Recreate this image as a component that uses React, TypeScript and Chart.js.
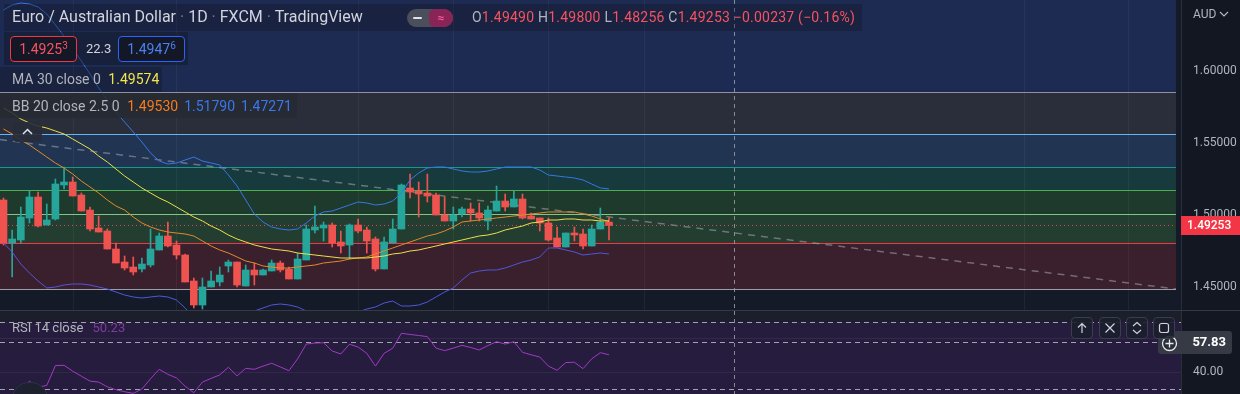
import React, { useEffect, useRef } from "react";
import { Chart, registerables } from "chart.js";

Chart.register(...registerables);

// ---------------- data ----------------
const candleOpen = [1.51021,1.48035,1.48243,1.49771,1.51229,1.49285,1.49701,1.52063,1.52271,1.51368,1.50326,1.49076,1.48868,1.47618,1.46715,1.46368,1.46229,1.46507,1.47549,1.48521,1.47896,1.47201,1.45396,1.43729,1.44979,1.45326,1.46438,1.46715,1.45049,1.46160,1.45813,1.46090,1.46646,1.46229,1.45535,1.46854,1.48938,1.49076,1.49285,1.48104,1.47896,1.49285,1.48938,1.48313,1.46229,1.48035,1.49007,1.51854,1.51646,1.51507,1.51368,1.49979,1.49563,1.50049,1.50396,1.50118,1.49563,1.50257,1.50951,1.50535,1.51090,1.49910,1.49771,1.49424,1.48382,1.47757,1.48729,1.48660,1.47826,1.49007,1.49490];
const candleHigh = [1.51160,1.48938,1.50535,1.51646,1.51576,1.50743,1.52479,1.53310,1.52618,1.51507,1.50535,1.49910,1.49007,1.48035,1.47132,1.47063,1.46993,1.49007,1.48729,1.49493,1.48174,1.47271,1.45604,1.45604,1.46090,1.46368,1.46854,1.46715,1.46507,1.46646,1.46229,1.46854,1.46785,1.46368,1.47340,1.49285,1.50604,1.49493,1.49424,1.48868,1.49354,1.49701,1.49146,1.48451,1.48451,1.49701,1.52132,1.52826,1.52271,1.52826,1.51507,1.51229,1.50535,1.50535,1.50813,1.50813,1.50604,1.51993,1.51438,1.51646,1.51438,1.50118,1.49771,1.49771,1.49146,1.48729,1.49146,1.49007,1.49285,1.50465,1.49800];
const candleLow = [1.47896,1.45674,1.48035,1.49424,1.49146,1.49285,1.49632,1.51785,1.51299,1.50257,1.48868,1.48799,1.47618,1.46646,1.46160,1.45813,1.46021,1.46368,1.47549,1.47757,1.46924,1.45326,1.43521,1.43451,1.44979,1.45049,1.46021,1.44979,1.45049,1.45118,1.45813,1.46090,1.46021,1.45535,1.45535,1.46854,1.48729,1.48174,1.47757,1.47340,1.46924,1.48729,1.47340,1.46090,1.46229,1.48035,1.49007,1.51160,1.49840,1.50882,1.49979,1.49563,1.49007,1.49840,1.49563,1.49563,1.48938,1.50257,1.50257,1.50535,1.49701,1.49701,1.48868,1.48174,1.47757,1.47757,1.48174,1.47618,1.47826,1.49007,1.48256];
const candleClose = [1.48035,1.48313,1.49840,1.51229,1.49215,1.49632,1.52132,1.52271,1.51299,1.50257,1.49007,1.48799,1.47618,1.46646,1.46299,1.46021,1.46576,1.47618,1.48521,1.47826,1.47201,1.45326,1.43729,1.44979,1.45396,1.45813,1.46715,1.45118,1.46160,1.45813,1.46160,1.46646,1.46160,1.45535,1.46924,1.49007,1.49146,1.49285,1.48035,1.47826,1.49285,1.48868,1.48174,1.46229,1.48104,1.49007,1.52063,1.51576,1.51438,1.51299,1.49979,1.49563,1.49979,1.50396,1.50118,1.49771,1.50326,1.50951,1.50535,1.51090,1.49771,1.49701,1.49424,1.48243,1.47757,1.48729,1.48590,1.47826,1.49007,1.49493,1.49253];

const ma30 = [1.57410,1.57063,1.56646,1.56368,1.56160,1.56021,1.55813,1.55604,1.55257,1.54910,1.54563,1.54076,1.53660,1.53174,1.52688,1.52271,1.51854,1.51507,1.51160,1.50882,1.50535,1.50188,1.49840,1.49563,1.49215,1.48938,1.48590,1.48313,1.48104,1.47896,1.47757,1.47618,1.47549,1.47479,1.47340,1.47271,1.47201,1.47132,1.47063,1.46993,1.46993,1.46993,1.46993,1.47063,1.47132,1.47271,1.47340,1.47479,1.47549,1.47688,1.47826,1.47965,1.48104,1.48243,1.48382,1.48521,1.48590,1.48729,1.48938,1.49076,1.49215,1.49424,1.49493,1.49632,1.49632,1.49701,1.49701,1.49632,1.49632,1.49563,1.49574];
const bbBasis = [1.55951,1.55604,1.55188,1.54840,1.54424,1.54007,1.53590,1.53243,1.52826,1.52340,1.51924,1.51507,1.51021,1.50604,1.50326,1.49840,1.49424,1.49146,1.48938,1.48799,1.48729,1.48660,1.48521,1.48174,1.47826,1.47549,1.47340,1.47063,1.46785,1.46646,1.46438,1.46368,1.46299,1.46299,1.46368,1.46438,1.46507,1.46646,1.46715,1.46785,1.46924,1.46993,1.47063,1.47271,1.47479,1.47688,1.47896,1.48104,1.48313,1.48521,1.48660,1.48868,1.49146,1.49493,1.49563,1.49632,1.49701,1.49771,1.49840,1.49910,1.49979,1.50049,1.50118,1.50188,1.50188,1.50188,1.50188,1.50049,1.49910,1.49701,1.49530];
const bbUpper = [1.64215,1.64563,1.64701,1.64632,1.64424,1.63938,1.63174,1.62410,1.61507,1.60674,1.59771,1.58799,1.57965,1.57132,1.56438,1.55743,1.55049,1.54285,1.53729,1.53521,1.53590,1.53799,1.54007,1.53729,1.53590,1.53451,1.52757,1.51993,1.51021,1.50049,1.49493,1.49146,1.49007,1.48938,1.49007,1.49424,1.49910,1.50188,1.50257,1.50465,1.50674,1.50882,1.50813,1.50674,1.50743,1.50951,1.51507,1.52410,1.52896,1.53243,1.53313,1.53313,1.53174,1.53035,1.52965,1.52965,1.53035,1.53174,1.53313,1.53313,1.53313,1.53313,1.53104,1.52757,1.52688,1.52618,1.52549,1.52410,1.52132,1.51854,1.51790];
const bbLower = [1.48035,1.47410,1.46576,1.45951,1.45396,1.44910,1.44979,1.45118,1.45188,1.45188,1.45118,1.44979,1.44840,1.44632,1.44424,1.44285,1.44215,1.44285,1.44354,1.44285,1.44076,1.43521,1.42826,1.42340,1.42132,1.42132,1.42340,1.42688,1.43035,1.43313,1.43521,1.43729,1.43799,1.43729,1.43590,1.43313,1.42965,1.42826,1.42826,1.42896,1.43035,1.43243,1.43451,1.43590,1.43868,1.44007,1.43660,1.43660,1.43729,1.43938,1.44285,1.44632,1.44910,1.45465,1.45951,1.46090,1.46160,1.46160,1.46299,1.46507,1.46715,1.46854,1.47063,1.47688,1.47688,1.47549,1.47410,1.47201,1.47271,1.47340,1.47271];
const rsi14 = [null,null,30.0,34.5,31.0,32.0,43.8,44.0,40.5,37.5,34.6,34.0,31.2,29.5,28.3,27.3,29.9,36.0,41.6,38.6,36.5,31.5,27.7,34.0,36.2,38.3,42.8,37.7,42.2,41.6,43.5,45.2,43.0,40.8,47.8,56.6,57.2,57.4,52.5,50.7,56.5,54.8,51.1,43.5,51.1,54.1,63.0,62.3,61.7,61.0,54.2,52.7,54.2,55.8,54.6,53.1,55.7,58.0,56.6,58.0,51.7,50.2,48.9,43.5,41.0,45.6,45.8,42.0,47.8,51.5,50.23];

const priceTicks = [1.45, 1.5, 1.55, 1.6];
const rsiTicks = [40, 60];
const rsiBandLevels = [70, 30];
// fib retracement levels 0, .236, .382, .5, .618, .786, 1, 1.618
const fibLevels = [1.4484, 1.48035, 1.50049, 1.51715, 1.53313, 1.55604, 1.58521, 1.6697];
const trendStart = { idx: -0.405, price: 1.55215 };
const trendEnd = { idx: 135.55, price: 1.4484 };
const lastClose = 1.49253;
const crosshairIndex = 84.45;
const crosshairRsi = 57.83;
const gridIndex = [8, 20, 41, 52, 63, 74, 118, 130];

// ---------------- layout / style ----------------
const X_MIN = -0.405;
const X_MAX = 136.13;
const FIB_END = 135.55;
const PRICE_MIN = 1.43382;
const PRICE_MAX = 1.6491;
const RSI_MIN = 26.93;
const RSI_MAX = 76.245;
const AXIS_W = 59;
const FONT = 'Roboto, "Noto Sans", Arial, sans-serif';

const fibFills = ["#3a1f2d", "#243d31", "#1e3a2d", "#173a3d", "#213452", "#2a2e3a", "#1d2a52"];
const fibLines = ["#9a9da6", "#f23645", "#81c784", "#4caf50", "#169a88", "#64b5f6", "#8f929c", "#2962ff"];

function vline(ctx: any, x: number, top: number, bottom: number) {
  ctx.beginPath();
  ctx.moveTo(x, top);
  ctx.lineTo(x, bottom);
  ctx.stroke();
}
function hline(ctx: any, y: number, left: number, right: number) {
  ctx.beginPath();
  ctx.moveTo(left, y);
  ctx.lineTo(right, y);
  ctx.stroke();
}

const pricePaint = {
  id: "pricePaint",
  beforeDraw(chart: any) {
    const { ctx, width, height, chartArea: a } = chart;
    ctx.save();
    ctx.fillStyle = "#131722";
    ctx.fillRect(0, 0, width, height);
    ctx.fillStyle = "#151a28";
    ctx.fillRect(a.left, a.top, a.right - a.left, a.bottom - a.top);
    ctx.restore();
  },
  beforeDatasetsDraw(chart: any) {
    const { ctx, chartArea: a, scales } = chart;
    const x = scales.x, y = scales.y;
    ctx.save();
    ctx.beginPath();
    ctx.rect(a.left, a.top, a.right - a.left, a.bottom - a.top);
    ctx.clip();
    const xr = x.getPixelForValue(FIB_END);
    for (let k = 0; k < fibLevels.length - 1; k++) {
      const y0 = y.getPixelForValue(fibLevels[k]);
      const y1 = y.getPixelForValue(fibLevels[k + 1]);
      ctx.fillStyle = fibFills[k];
      ctx.fillRect(a.left, y1, xr - a.left, y0 - y1);
    }
    ctx.lineWidth = 1;
    ctx.strokeStyle = "rgba(255,255,255,0.05)";
    for (const g of gridIndex) {
      vline(ctx, Math.round(x.getPixelForValue(g)) + 0.5, a.top, a.bottom);
    }
    fibLevels.forEach((lv, k) => {
      ctx.strokeStyle = fibLines[k];
      hline(ctx, Math.round(y.getPixelForValue(lv)) + 0.5, a.left, xr);
    });
    ctx.restore();
  },
  afterDatasetsDraw(chart: any) {
    const { ctx, chartArea: a, scales } = chart;
    ctx.save();
    ctx.strokeStyle = "rgba(160,163,172,0.8)";
    ctx.lineWidth = 1;
    ctx.setLineDash([4, 4]);
    vline(ctx, Math.round(scales.x.getPixelForValue(crosshairIndex)) + 0.5, a.top, a.bottom);
    ctx.restore();
  },
  afterDraw(chart: any) {
    const { ctx, chartArea: a, scales, width } = chart;
    const py = scales.y.getPixelForValue(lastClose);
    ctx.save();
    ctx.fillStyle = "#f23645";
    ctx.fillRect(a.right, Math.round(py) - 9, width - a.right, 19);
    ctx.fillStyle = "#ffffff";
    ctx.font = `500 12px ${FONT}`;
    ctx.textBaseline = "middle";
    ctx.textAlign = "left";
    ctx.fillText(lastClose.toFixed(5), a.right + 6, Math.round(py) + 0.5);
    ctx.restore();
  },
};

const rsiPaint = {
  id: "rsiPaint",
  beforeDraw(chart: any) {
    const { ctx, width, height, chartArea: a, scales } = chart;
    const y = scales.y;
    ctx.save();
    ctx.fillStyle = "#131722";
    ctx.fillRect(0, 0, width, height);
    ctx.fillStyle = "#1b1f2c";
    ctx.fillRect(a.left, a.top, a.right - a.left, a.bottom - a.top);
    const yt = y.getPixelForValue(rsiBandLevels[0]);
    const yb = y.getPixelForValue(rsiBandLevels[1]);
    ctx.fillStyle = "#261c3d";
    ctx.fillRect(a.left, yt, a.right - a.left, Math.min(a.bottom, yb + 6) - yt);
    ctx.restore();
  },
  beforeDatasetsDraw(chart: any) {
    const { ctx, chartArea: a, scales } = chart;
    ctx.save();
    ctx.lineWidth = 1;
    ctx.setLineDash([5, 4]);
    ctx.strokeStyle = "rgba(205,207,215,0.75)";
    for (const lv of rsiBandLevels) {
      hline(ctx, Math.round(scales.y.getPixelForValue(lv)) + 0.5, a.left, a.right);
    }
    ctx.strokeStyle = "rgba(205,207,215,0.75)";
    hline(ctx, Math.round(scales.y.getPixelForValue(crosshairRsi)) + 0.5, a.left, a.right);
    ctx.setLineDash([4, 4]);
    ctx.strokeStyle = "rgba(160,163,172,0.8)";
    vline(ctx, Math.round(scales.x.getPixelForValue(crosshairIndex)) + 0.5, a.top, a.bottom);
    ctx.restore();
  },
  afterDraw(chart: any) {
    const { ctx, chartArea: a, scales } = chart;
    const py = Math.round(scales.y.getPixelForValue(crosshairRsi));
    ctx.save();
    ctx.fillStyle = "#363a45";
    const bx = a.right - 23, bw = 74, bh = 23;
    ctx.beginPath();
    ctx.moveTo(bx + 3, py - 11);
    ctx.lineTo(bx + bw - 3, py - 11);
    ctx.quadraticCurveTo(bx + bw, py - 11, bx + bw, py - 8);
    ctx.lineTo(bx + bw, py + bh - 14);
    ctx.quadraticCurveTo(bx + bw, py + bh - 11, bx + bw - 3, py + bh - 11);
    ctx.lineTo(bx + 3, py + bh - 11);
    ctx.quadraticCurveTo(bx, py + bh - 11, bx, py + bh - 14);
    ctx.lineTo(bx, py - 8);
    ctx.quadraticCurveTo(bx, py - 11, bx + 3, py - 11);
    ctx.fill();
    ctx.fillStyle = "#ffffff";
    ctx.font = `700 13px ${FONT}`;
    ctx.textBaseline = "middle";
    ctx.textAlign = "right";
    ctx.fillText(crosshairRsi.toFixed(2), a.right + 45, py + 0.5);
    // plus-circle marker
    ctx.strokeStyle = "#e8e9ec";
    ctx.lineWidth = 1.3;
    ctx.fillStyle = "#2a2e39";
    ctx.beginPath();
    ctx.arc(a.right - 11.5, py + 1.5, 7, 0, Math.PI * 2);
    ctx.fill();
    ctx.stroke();
    ctx.beginPath();
    ctx.moveTo(a.right - 15.5, py + 1.5);
    ctx.lineTo(a.right - 7.5, py + 1.5);
    ctx.moveTo(a.right - 11.5, py - 2.5);
    ctx.lineTo(a.right - 11.5, py + 5.5);
    ctx.stroke();
    ctx.restore();
  },
};

function yAxis(min: number, max: number, ticks: number[], digits: number, grid: boolean) {
  return {
    position: "right",
    min,
    max,
    afterFit: (s: any) => {
      s.width = AXIS_W;
      s.paddingTop = 0;
      s.paddingBottom = 0;
    },
    afterBuildTicks: (s: any) => {
      s.ticks = ticks.map((v) => ({ value: v }));
    },
    ticks: {
      color: "#b2b5be",
      font: { family: FONT, size: 12 },
      padding: 12,
      callback: (v: any) => Number(v).toFixed(digits),
    },
    grid: { display: grid, drawTicks: false, color: "rgba(255,255,255,0.06)" },
    border: { display: true, color: "#2a2e39" },
  };
}

const abs = (s: any): any => ({ position: "absolute", whiteSpace: "nowrap", ...s });

export default function App() {
  const priceRef = useRef<HTMLCanvasElement>(null);
  const rsiRef = useRef<HTMLCanvasElement>(null);

  useEffect(() => {
    const idx = candleOpen.map((_, i) => i);
    const colors = idx.map((i) => (candleClose[i] >= candleOpen[i] ? "#26a69a" : "#ef5350"));
    const series = (arr: any[]) => idx.map((i) => ({ x: i, y: arr[i] }));
    const xScale = { type: "linear", display: false, min: X_MIN, max: X_MAX, offset: false };
    const lineDs = (data: any, color: string, order: number, extra: any = {}) => ({
      type: "line",
      data,
      borderColor: color,
      borderWidth: 1,
      pointRadius: 0,
      tension: 0,
      order,
      ...extra,
    });

    const priceChart = new Chart(priceRef.current as any, {
      type: "bar",
      data: {
        datasets: [
          lineDs(
            [
              { x: trendStart.idx, y: trendStart.price },
              { x: trendEnd.idx, y: trendEnd.price },
            ],
            "rgba(165,168,178,0.55)",
            20,
            { borderWidth: 1.5, borderDash: [7, 6] }
          ),
          lineDs(
            [
              { x: X_MIN, y: lastClose },
              { x: FIB_END, y: lastClose },
            ],
            "rgba(242,80,90,0.85)",
            19,
            { borderDash: [1, 3] }
          ),
          {
            type: "bar",
            data: idx.map((i) => ({ x: i, y: [candleLow[i], candleHigh[i]] })),
            backgroundColor: colors,
            barThickness: 1,
            grouped: false,
            borderWidth: 0,
            order: 11,
          },
          {
            type: "bar",
            data: idx.map((i) => ({ x: i, y: [candleOpen[i], candleClose[i]] })),
            backgroundColor: colors,
            barThickness: 7,
            minBarLength: 1,
            grouped: false,
            borderWidth: 0,
            order: 10,
          },
          lineDs(series(bbLower), "#4f57dc", 4),
          lineDs(series(bbUpper), "#3577e6", 3),
          lineDs(series(bbBasis), "#e3892b", 2),
          lineDs(series(ma30), "#ece04a", 1),
        ],
      } as any,
      options: {
        responsive: false,
        animation: false,
        devicePixelRatio: 1,
        events: [],
        layout: { padding: 0 },
        plugins: { legend: { display: false }, tooltip: { enabled: false } },
        scales: {
          x: xScale,
          y: yAxis(PRICE_MIN, PRICE_MAX, priceTicks, 5, false),
        },
      } as any,
      plugins: [pricePaint],
    });

    const rsiChart = new Chart(rsiRef.current as any, {
      type: "line",
      data: {
        datasets: [lineDs(series(rsi14), "#a03ac4", 1, { spanGaps: false })],
      } as any,
      options: {
        responsive: false,
        animation: false,
        devicePixelRatio: 1,
        events: [],
        layout: { padding: 0 },
        plugins: { legend: { display: false }, tooltip: { enabled: false } },
        scales: {
          x: xScale,
          y: yAxis(RSI_MIN, RSI_MAX, rsiTicks, 2, true),
        },
      } as any,
      plugins: [rsiPaint],
    });

    return () => {
      priceChart.destroy();
      rsiChart.destroy();
    };
  }, []);

  const gray = "#b2b5be";
  const red = "#f7525f";
  const btn = (left: number): any =>
    abs({
      left,
      top: 317,
      width: 22,
      height: 22,
      boxSizing: "border-box",
      border: "1px solid #3b3f4b",
      borderRadius: 4,
      background: "rgba(27,31,44,0.9)",
      display: "flex",
      alignItems: "center",
      justifyContent: "center",
    });

  return (
    <div
      style={{
        position: "fixed",
        left: 0,
        top: 0,
        width: 1240,
        height: 394,
        overflow: "hidden",
        background: "#131722",
        fontFamily: FONT,
      }}
    >
      <canvas ref={priceRef} width={1240} height={310} style={abs({ left: 0, top: 0 })} />
      <div style={abs({ left: 0, top: 310, width: 1240, height: 1, background: "#363a45" })} />
      <canvas ref={rsiRef} width={1240} height={83} style={abs({ left: 0, top: 311 })} />

      {/* header row */}
      <div style={abs({ left: 4, top: 4, width: 858, height: 27, background: "rgba(19,23,34,0.35)" })} />
      <div style={abs({ left: 12, top: 7, fontSize: 16, color: "#d1d4dc", lineHeight: "20px" })}>
        Euro / Australian Dollar<span style={{ color: "#787b86" }}> · </span>1D
        <span style={{ color: "#787b86" }}> · </span>FXCM<span style={{ color: "#787b86" }}> · </span>TradingView
      </div>
      <div
        style={abs({
          left: 407,
          top: 9,
          width: 46,
          height: 18,
          borderRadius: 9,
          background: "#4b4f5b",
          overflow: "hidden",
        })}
      >
        <div style={abs({ left: 6, top: 8, width: 9, height: 2, background: "#e0e3eb", borderRadius: 1 })} />
        <div
          style={abs({
            left: 22,
            top: 0,
            width: 24,
            height: 18,
            background: "#8a2457",
            borderRadius: 6,
            color: "#ff5fa2",
            fontSize: 12,
            lineHeight: "18px",
            textAlign: "center",
          })}
        >
          ≈
        </div>
      </div>
      <div style={abs({ left: 472, top: 8, fontSize: 14, lineHeight: "18px", color: red, letterSpacing: 0.22 })}>
        <span style={{ color: gray }}>O</span>1.49490 <span style={{ color: gray }}>H</span>1.49800{" "}
        <span style={{ color: gray }}>L</span>1.48256 <span style={{ color: gray }}>C</span>1.49253 −0.00237 (−0.16%)
      </div>

      {/* row 2 */}
      <div style={abs({ left: 4, top: 32, width: 184, height: 33, background: "rgba(19,23,34,0.45)" })} />
      <div
        style={abs({
          left: 10,
          top: 36,
          width: 67,
          height: 26,
          boxSizing: "border-box",
          border: "1px solid #f23645",
          borderRadius: 4,
          background: "#141826",
          color: red,
          fontSize: 14,
          lineHeight: "24px",
          textAlign: "center",
        })}
      >
        1.4925<span style={{ fontSize: 10, position: "relative", top: -5 }}>3</span>
      </div>
      <div style={abs({ left: 86, top: 40, fontSize: 13, color: "#d1d4dc", lineHeight: "18px" })}>22.3</div>
      <div
        style={abs({
          left: 118,
          top: 36,
          width: 67,
          height: 26,
          boxSizing: "border-box",
          border: "1px solid #2962ff",
          borderRadius: 4,
          background: "#141826",
          color: "#4a80f0",
          fontSize: 14,
          lineHeight: "24px",
          textAlign: "center",
        })}
      >
        1.4947<span style={{ fontSize: 10, position: "relative", top: -5 }}>6</span>
      </div>

      {/* MA row */}
      <div style={abs({ left: 0, top: 67, width: 162, height: 25, background: "rgba(19,23,34,0.4)" })} />
      <div style={abs({ left: 12, top: 70, fontSize: 14, lineHeight: "18px", color: gray })}>
        MA 30 close 0 <span style={{ color: "#f0e44c", marginLeft: 4 }}>1.49574</span>
      </div>

      {/* BB row */}
      <div style={abs({ left: 0, top: 93, width: 297, height: 25, background: "rgba(38,41,50,0.85)" })} />
      <div style={abs({ left: 12, top: 97, fontSize: 14, lineHeight: "18px", color: gray })}>
        BB 20 close 2.5 0 <span style={{ color: "#f57c1f", marginLeft: 4 }}>1.49530</span>
        <span style={{ color: "#3a78f0", marginLeft: 6 }}>1.51790</span>
        <span style={{ color: "#3a78f0", marginLeft: 6 }}>1.47271</span>
      </div>

      {/* collapse button */}
      <div
        style={abs({
          left: 13,
          top: 122,
          width: 29,
          height: 20,
          borderRadius: 4,
          background: "rgba(40,44,56,0.9)",
        })}
      >
        <svg width="29" height="20" style={{ position: "absolute", left: 0, top: 0 }}>
          <polyline points="10,12 14.5,7.5 19,12" fill="none" stroke="#e0e3eb" strokeWidth="1.5" />
        </svg>
      </div>

      {/* right axis currency */}
      <div style={abs({ left: 1193, top: 6, fontSize: 12, lineHeight: "16px", color: gray })}>
        AUD
        <svg width="10" height="8" style={{ marginLeft: 3 }}>
          <polyline points="1,2 5,6 9,2" fill="none" stroke={gray} strokeWidth="1.2" />
        </svg>
      </div>

      {/* RSI legend */}
      <div style={abs({ left: 12, top: 320, fontSize: 13, lineHeight: "16px", color: gray })}>
        RSI 14 close <span style={{ color: "#7f3c9f", marginLeft: 6 }}>50.23</span>
      </div>

      {/* RSI pane buttons */}
      <div style={btn(1071)}>
        <svg width="12" height="12">
          <path d="M6 11 V1.5 M2 5.5 L6 1.5 L10 5.5" fill="none" stroke="#d1d4dc" strokeWidth="1.2" />
        </svg>
      </div>
      <div style={btn(1099)}>
        <svg width="12" height="12">
          <path d="M1.5 1.5 L10.5 10.5 M10.5 1.5 L1.5 10.5" fill="none" stroke="#d1d4dc" strokeWidth="1.2" />
        </svg>
      </div>
      <div style={btn(1126)}>
        <svg width="12" height="14">
          <path d="M2 5 L6 1.5 L10 5 M2 9 L6 12.5 L10 9" fill="none" stroke="#d1d4dc" strokeWidth="1.2" />
        </svg>
      </div>
      <div style={btn(1153)}>
        <svg width="12" height="12">
          <rect x="1.5" y="1.5" width="9" height="9" rx="2" fill="none" stroke="#d1d4dc" strokeWidth="1.2" />
        </svg>
      </div>

      {/* bottom-left go-to button */}
      <div
        style={abs({
          left: 12,
          top: 382,
          width: 34,
          height: 34,
          borderRadius: 17,
          background: "#1e2230",
          border: "1px solid #2e3240",
        })}
      />
    </div>
  );
}
